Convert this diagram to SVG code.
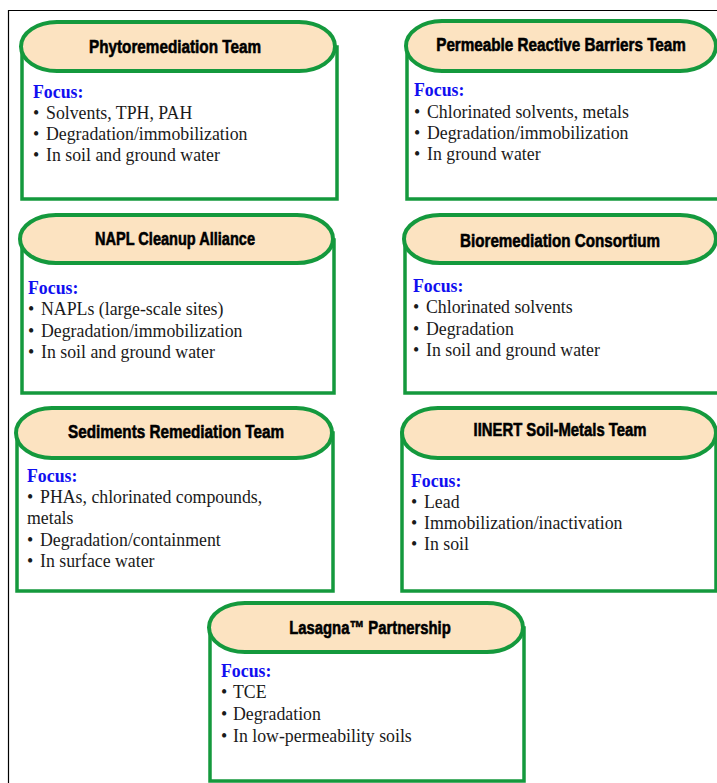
<svg xmlns="http://www.w3.org/2000/svg" width="717" height="783" viewBox="0 0 717 783">
<style>
.frame{stroke:#000;stroke-width:1.2;fill:none}
.body{fill:#fff;stroke:#14993d;stroke-width:3.5}
.pill{fill:#fce3c1;stroke:#14993d;stroke-width:4}
.title{font-family:"Liberation Sans Narrow","Liberation Sans",Arial,sans-serif;font-weight:bold;font-size:19px;fill:#000;stroke:#000;stroke-width:0.6;text-anchor:middle}
.focus{font-family:"Liberation Serif","Times New Roman",serif;font-weight:bold;font-size:17.8px;fill:#1010f0}
.item{font-family:"Liberation Serif","Times New Roman",serif;font-size:17.8px;fill:#1a1a1a}
</style>
<rect width="717" height="783" fill="#fff"/>
<g id="frame">
<path class="frame" d="M8,10.5 H717 M8.5,10 V783"/>
</g>
<g id="connectors"></g>
<g id="phytoremediation">
<rect class="body" x="22" y="47" width="315" height="152"/>
<rect class="pill" x="21" y="22" width="314" height="49" rx="36" ry="24.5"/>
<text class="title" transform="translate(175,52.5) scale(0.8,1)" textLength="215" lengthAdjust="spacingAndGlyphs">Phytoremediation Team</text>
<text class="focus" x="33" y="98">Focus:</text>
<text class="item" y="119"><tspan x="33">•</tspan><tspan x="46">Solvents, TPH, PAH</tspan></text>
<text class="item" y="140"><tspan x="33">•</tspan><tspan x="46">Degradation/immobilization</tspan></text>
<text class="item" y="161"><tspan x="33">•</tspan><tspan x="46">In soil and ground water</tspan></text>
</g>
<g id="prb">
<rect class="body" x="407" y="47" width="312" height="152"/>
<rect class="pill" x="406" y="21" width="310" height="50" rx="36" ry="25"/>
<text class="title" transform="translate(561,50.5) scale(0.8,1)" textLength="312" lengthAdjust="spacingAndGlyphs">Permeable Reactive Barriers Team</text>
<text class="focus" x="414" y="96">Focus:</text>
<text class="item" y="118"><tspan x="414">•</tspan><tspan x="427">Chlorinated solvents, metals</tspan></text>
<text class="item" y="139"><tspan x="414">•</tspan><tspan x="427">Degradation/immobilization</tspan></text>
<text class="item" y="160"><tspan x="414">•</tspan><tspan x="427">In ground water</tspan></text>
</g>
<g id="napl">
<rect class="body" x="22" y="240" width="312" height="153"/>
<rect class="pill" x="20" y="215" width="313" height="48" rx="36" ry="24"/>
<text class="title" transform="translate(175,245) scale(0.8,1)" textLength="200" lengthAdjust="spacingAndGlyphs">NAPL Cleanup Alliance</text>
<text class="focus" x="28" y="294">Focus:</text>
<text class="item" y="315"><tspan x="28">•</tspan><tspan x="41">NAPLs (large-scale sites)</tspan></text>
<text class="item" y="337"><tspan x="28">•</tspan><tspan x="41">Degradation/immobilization</tspan></text>
<text class="item" y="358"><tspan x="28">•</tspan><tspan x="41">In soil and ground water</tspan></text>
</g>
<g id="bioremediation">
<rect class="body" x="405" y="240" width="314" height="153"/>
<rect class="pill" x="404" y="215" width="312" height="48" rx="36" ry="24"/>
<text class="title" transform="translate(560,246.5) scale(0.8,1)" textLength="250" lengthAdjust="spacingAndGlyphs">Bioremediation Consortium</text>
<text class="focus" x="413" y="292">Focus:</text>
<text class="item" y="313"><tspan x="413">•</tspan><tspan x="426">Chlorinated solvents</tspan></text>
<text class="item" y="335"><tspan x="413">•</tspan><tspan x="426">Degradation</tspan></text>
<text class="item" y="356"><tspan x="413">•</tspan><tspan x="426">In soil and ground water</tspan></text>
</g>
<g id="sediments">
<rect class="body" x="17" y="433" width="316" height="158"/>
<rect class="pill" x="16" y="408" width="316" height="50" rx="36" ry="25"/>
<text class="title" transform="translate(176,437.5) scale(0.8,1)" textLength="270" lengthAdjust="spacingAndGlyphs">Sediments Remediation Team</text>
<text class="focus" x="27" y="482">Focus:</text>
<text class="item" y="503"><tspan x="27">•</tspan><tspan x="40">PHAs, chlorinated compounds,</tspan></text>
<text class="item" x="27" y="524">metals</text>
<text class="item" y="546"><tspan x="27">•</tspan><tspan x="40">Degradation/containment</tspan></text>
<text class="item" y="567"><tspan x="27">•</tspan><tspan x="40">In surface water</tspan></text>
</g>
<g id="iinert">
<rect class="body" x="402" y="433" width="314" height="158"/>
<rect class="pill" x="402" y="408" width="314" height="50" rx="36" ry="25"/>
<text class="title" transform="translate(560,436) scale(0.8,1)" textLength="216" lengthAdjust="spacingAndGlyphs">IINERT Soil-Metals Team</text>
<text class="focus" x="411" y="487">Focus:</text>
<text class="item" y="508"><tspan x="411">•</tspan><tspan x="424">Lead</tspan></text>
<text class="item" y="529"><tspan x="411">•</tspan><tspan x="424">Immobilization/inactivation</tspan></text>
<text class="item" y="550"><tspan x="411">•</tspan><tspan x="424">In soil</tspan></text>
</g>
<g id="lasagna">
<rect class="body" x="210" y="628" width="314" height="153"/>
<rect class="pill" x="209" y="603" width="314" height="49" rx="36" ry="24.5"/>
<text class="title" transform="translate(370,633.5) scale(0.8,1)" textLength="202" lengthAdjust="spacingAndGlyphs">Lasagna™ Partnership</text>
<text class="focus" x="221" y="677">Focus:</text>
<text class="item" y="698"><tspan x="221">•</tspan><tspan x="233">TCE</tspan></text>
<text class="item" y="720"><tspan x="221">•</tspan><tspan x="233">Degradation</tspan></text>
<text class="item" y="742"><tspan x="221">•</tspan><tspan x="233">In low-permeability soils</tspan></text>
</g>
</svg>
